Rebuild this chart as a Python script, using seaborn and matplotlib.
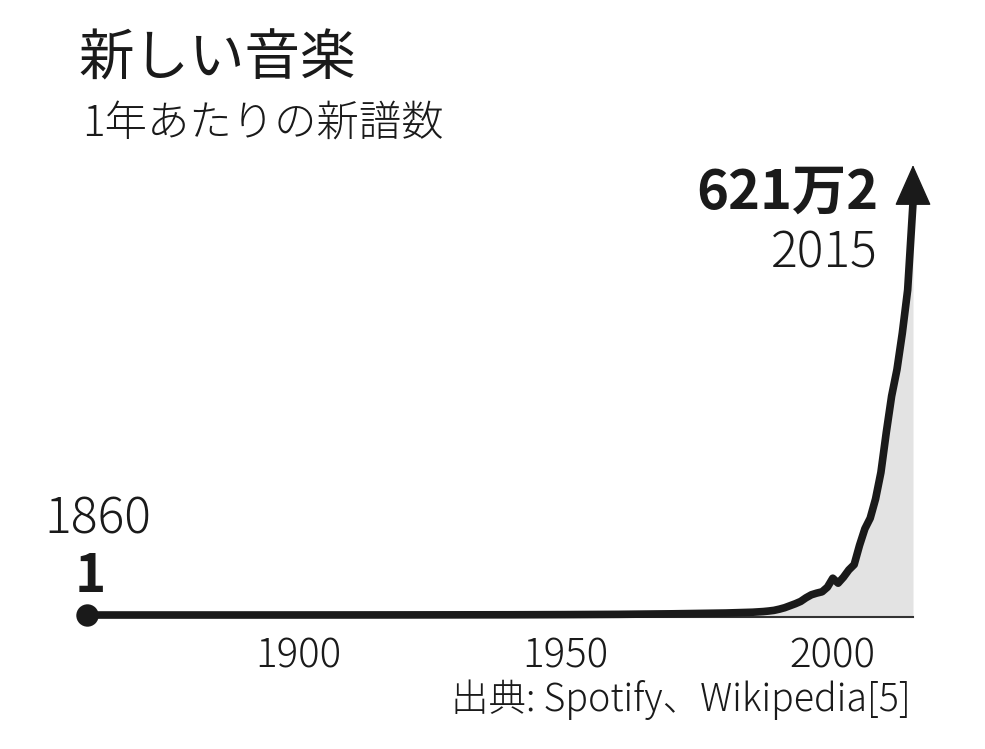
import numpy as np
import pandas as pd
import seaborn as sns
import matplotlib.pyplot as plt

# New releases per year (Spotify / Wikipedia)
years = [1860, 1870, 1880, 1890, 1900, 1910, 1920, 1930, 1940, 1950, 1960, 1970, 1975, 1980,
         1985, 1986, 1987, 1988, 1989, 1990, 1991, 1992, 1993, 1994, 1995, 1996, 1997,
         1998, 1999, 2000, 2001, 2002, 2003, 2004, 2005, 2006, 2007, 2008, 2009, 2010,
         2011, 2012, 2013, 2014, 2015]
releases = [1, 20, 50, 150, 400, 800, 1500, 2500, 3500, 6000, 10000, 18000, 24000, 30000,
            42000, 47000, 52000, 60000, 70000, 88000, 110000, 140000, 170000, 205000, 260000,
            305000, 330000, 350000, 420000, 555000, 480000, 570000, 680000, 760000, 1050000,
            1300000, 1460000, 1750000, 2150000, 2750000, 3300000, 3700000, 4250000, 4900000,
            6212000]

major_ticks = [1900, 1950, 2000]
minor_ticks = [1870, 1880, 1890, 1910, 1920, 1930, 1940, 1960, 1970, 1980, 1990, 2010]

title = "新しい音楽"
subtitle = "1年あたりの新譜数"
source = "出典: Spotify、Wikipedia[5]"
start_value_label = "1"
end_value_label = "621万2"

df = pd.DataFrame({"year": years, "releases": releases})

sns.set_style("white")
plt.rcParams['font.family'] = ['Noto Sans CJK JP', 'DejaVu Sans']
ink = "#1a1a1a"
thin = "light"

W, H = 985, 749
fig = plt.figure(figsize=(W / 100, H / 100), dpi=100)


def px(x, y):
    return x / W, 1 - y / H


# axes placed so 1860 -> x=84px, 2015 -> x=913px, baseline at y=617px
ax = fig.add_axes([84 / W, 1 - 617 / H, (913 - 84) / W, 452 / H])
ymax = 6.785e6
ymin = -0.030e6
ax.set_xlim(df.year.min(), df.year.max())
ax.set_ylim(ymin, ymax)

ax.fill_between(df.year, ymin, df.releases, color="#e3e3e3", lw=0, zorder=1)
sns.lineplot(data=df, x="year", y="releases", ax=ax, color=ink, lw=5.5,
             solid_joinstyle="round", clip_on=False, zorder=3)
ax.scatter(df.year.iloc[:1] + 0.5, df.releases.iloc[:1], s=260, color=ink,
           clip_on=False, zorder=4, lw=0)

# arrow head on the last value
ax.annotate("", xy=(df.year.iloc[-1], ymax), xytext=(df.year.iloc[-1], df.releases.iloc[-1]),
            arrowprops=dict(arrowstyle="-|>,head_length=27,head_width=12", mutation_scale=1,
                            color=ink, lw=1, shrinkA=0, shrinkB=0),
            annotation_clip=False, zorder=5)

# axis styling
for s in ["left", "top", "right"]:
    ax.spines[s].set_visible(False)
ax.spines["bottom"].set_color("#333333")
ax.spines["bottom"].set_linewidth(1.5)
ax.set_yticks([])
ax.set_xticks(major_ticks)
ax.set_xticklabels([str(t) for t in major_ticks], fontweight=thin)
ax.set_xticks(minor_ticks, minor=True)
ax.tick_params(axis="x", which="major", length=11, width=1.5, color="#333333",
               labelsize=29, labelcolor=ink, pad=2)
ax.tick_params(axis="x", which="minor", length=6, width=1.5, color="#333333")
ax.set_xlabel("")
ax.set_ylabel("")

# text
fig.text(*px(78, 76), title, fontsize=40, color=ink, va="baseline", fontweight="normal")
fig.text(*px(82, 136), subtitle, fontsize=30.5, color=ink, va="baseline", fontweight=thin)
fig.text(*px(878, 209), end_value_label, fontsize=39, fontweight="bold", color=ink,
         ha="right", va="baseline")
fig.text(*px(878, 267), str(df.year.iloc[-1]), fontsize=36, color=ink,
         ha="right", va="baseline", fontweight=thin)
fig.text(*px(98, 534), str(df.year.iloc[0]), fontsize=36, color=ink,
         ha="center", va="baseline", fontweight=thin)
fig.text(*px(90, 592), start_value_label, fontsize=38, fontweight="bold", color=ink,
         ha="center", va="baseline")
fig.text(*px(911, 711), source, fontsize=27, color=ink, ha="right", va="baseline",
         fontweight=thin)

fig.savefig("out.png", dpi=100)
